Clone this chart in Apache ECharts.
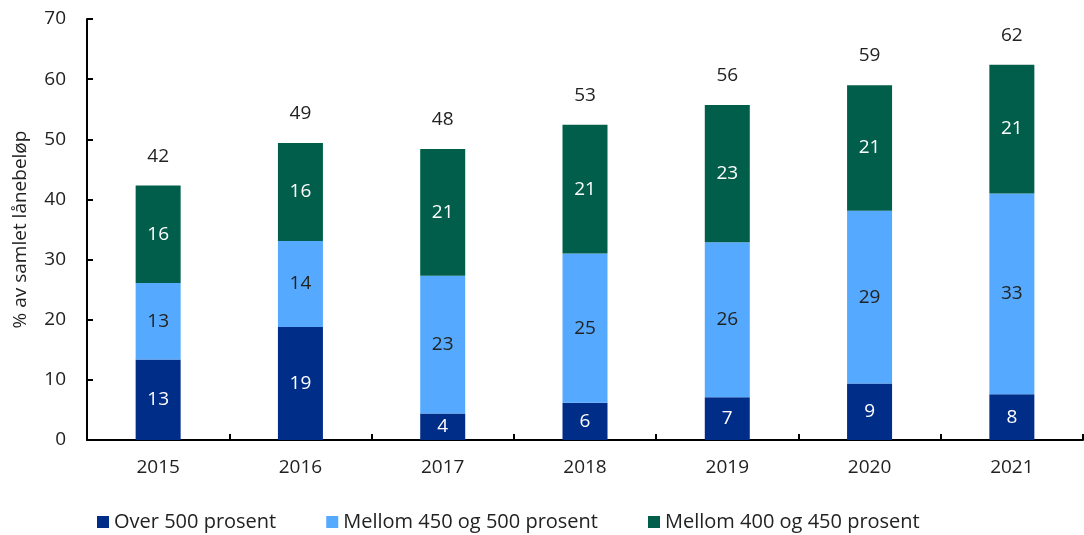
<!DOCTYPE html>
<html>
<head>
<meta charset="utf-8">
<script src="https://cdn.jsdelivr.net/npm/echarts@6/dist/echarts.min.js"></script>
<style>
  html, body { margin: 0; padding: 0; background: #fff; }
  #main { width: 1084px; height: 535px; }
</style>
</head>
<body>
<div id="main"></div>
<script>
// år
var years = ['2015', '2016', '2017', '2018', '2019', '2020', '2021'];
// andeler, % av samlet lånebeløp
var over500 = [13.4, 18.8, 4.4, 6.2, 7.1, 9.4, 7.6];
var mellom450 = [12.7, 14.3, 22.9, 24.8, 25.8, 28.7, 33.4];
var mellom400 = [16.2, 16.3, 21.1, 21.4, 22.8, 20.9, 21.4];
// totaler vist over søylene
var totals = [42, 49, 48, 53, 56, 59, 62];

var seriesNames = ['Over 500 prosent', 'Mellom 450 og 500 prosent', 'Mellom 400 og 450 prosent'];
var colors = ['#002D87', '#55AAFF', '#005E4A'];
var labelColors = ['#ffffff', '#222222', '#ffffff'];
var fontFam = '"Open Sans", "Noto Sans", sans-serif';

var myChart = echarts.init(document.getElementById('main'));

function barSeries(i, data) {
  return {
    name: seriesNames[i],
    type: 'bar',
    stack: 'tot',
    barWidth: 45,
    data: data,
    itemStyle: { color: colors[i] },
    label: {
      show: true,
      position: 'inside',
      color: labelColors[i],
      fontSize: 19,
      fontFamily: fontFam,
      formatter: function (p) { return Math.round(p.value); }
    }
  };
}

var option = {
  animation: false,
  textStyle: { fontFamily: fontFam },
  grid: { left: 87, right: 1, top: 19, bottom: 95 },
  legend: {
    data: seriesNames,
    left: 92,
    bottom: 0,
    padding: [5, 5, 3, 5],
    icon: 'rect',
    itemWidth: 12,
    itemHeight: 12,
    itemGap: 50,
    textStyle: { fontSize: 20, color: '#222', fontFamily: fontFam }
  },
  xAxis: {
    type: 'category',
    data: years,
    axisLine: { lineStyle: { color: '#000', width: 2 } },
    axisTick: { show: true, inside: true, length: 6, lineStyle: { color: '#000', width: 2 } },
    axisLabel: { fontSize: 19, color: '#222', margin: 18 }
  },
  yAxis: {
    type: 'value',
    min: 0,
    max: 70,
    interval: 10,
    name: '% av samlet lånebeløp',
    nameLocation: 'middle',
    nameGap: 57,
    nameTextStyle: { fontSize: 19, color: '#222' },
    splitLine: { show: false },
    axisLine: { show: true, lineStyle: { color: '#000', width: 2 } },
    axisTick: { show: true, inside: true, length: 6, lineStyle: { color: '#000', width: 2 } },
    axisLabel: { fontSize: 19, color: '#222', margin: 21 }
  },
  series: [
    barSeries(0, over500),
    barSeries(1, mellom450),
    barSeries(2, mellom400),
    {
      name: 'total',
      type: 'bar',
      stack: 'tot',
      barWidth: 45,
      data: totals.map(function () { return 0; }),
      itemStyle: { color: 'transparent' },
      label: {
        show: true,
        position: 'top',
        distance: 20,
        color: '#222',
        fontSize: 19,
        fontFamily: fontFam,
        formatter: function (p) { return totals[p.dataIndex]; }
      }
    }
  ]
};

myChart.setOption(option);
window.onresize = function () {
  myChart.resize();
};
</script>
</body>
</html>
